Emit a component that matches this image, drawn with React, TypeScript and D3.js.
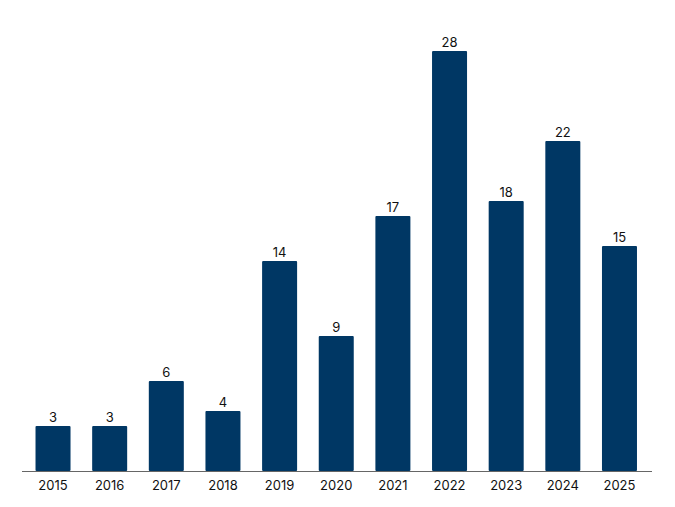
import React from "react";
import * as d3 from "d3";

const years = ["2015", "2016", "2017", "2018", "2019", "2020", "2021", "2022", "2023", "2024", "2025"];
const counts = [3, 3, 6, 4, 14, 9, 17, 28, 18, 22, 15];

export default function App() {
  const width = 675;
  const height = 507;
  const x = d3.scaleBand<string>().domain(years).range([24.7, 647.8]).paddingInner(0.382).paddingOuter(0.191);
  const y = d3.scaleLinear().domain([0, 28]).range([471, 51]);
  const font = "Inter, 'Liberation Sans', sans-serif";
  return (
    <svg width={width} height={height} style={{ position: "absolute", left: 0, top: 0, background: "#fff" }}>
      {years.map((yr, i) => (
        <g key={yr}>
          <rect x={x(yr)} y={y(counts[i])} width={x.bandwidth()} height={y(0) - y(counts[i])} fill="#003764" rx={1} />
          <text x={(x(yr) as number) + x.bandwidth() / 2} y={y(counts[i]) - 4} textAnchor="middle" fontFamily={font} fontSize={13} fill="#111">
            {counts[i]}
          </text>
          <text x={(x(yr) as number) + x.bandwidth() / 2} y={490} textAnchor="middle" fontFamily={font} fontSize={13} fill="#111">
            {yr}
          </text>
        </g>
      ))}
      <line x1={22} x2={652} y1={471.5} y2={471.5} stroke="#666" strokeWidth={1} />
    </svg>
  );
}
